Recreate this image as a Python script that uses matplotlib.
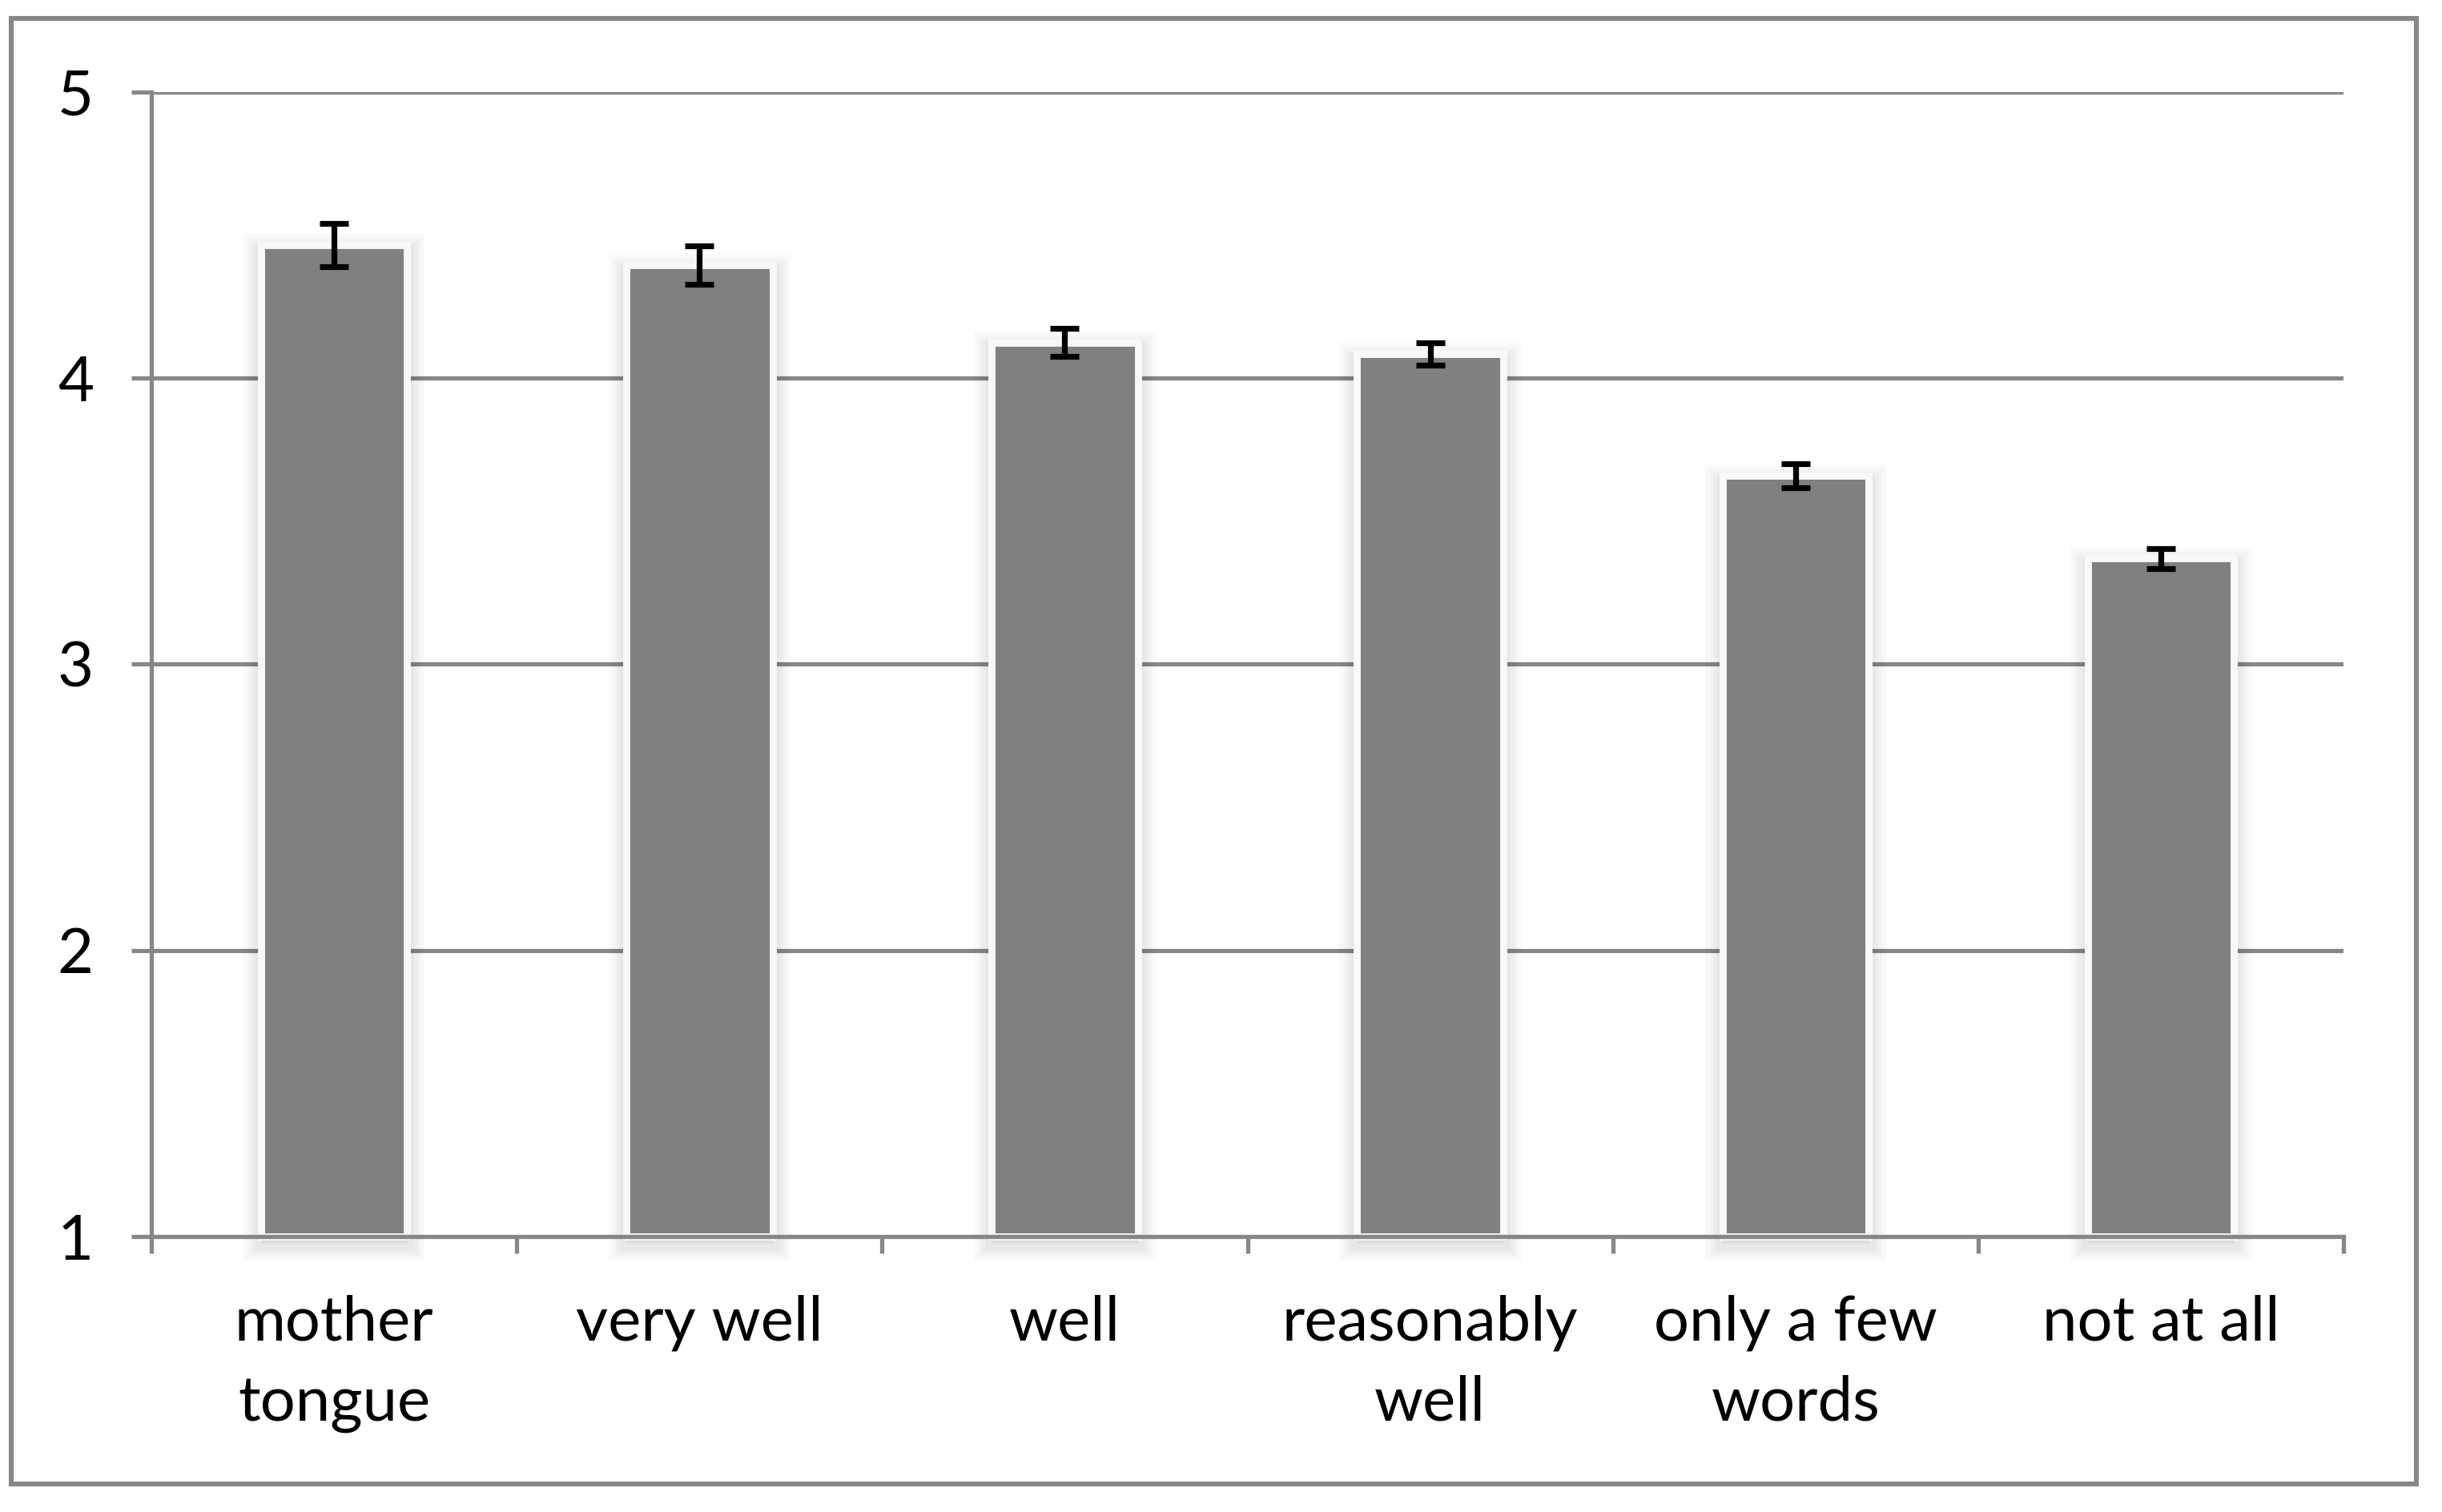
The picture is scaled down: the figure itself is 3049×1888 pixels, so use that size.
import numpy as np
import matplotlib
matplotlib.use("Agg")
import matplotlib.pyplot as plt
import matplotlib.patheffects as pe
from matplotlib.patches import Rectangle

plt.rcParams['font.family'] = ['Lato', 'DejaVu Sans']

# ---------------- data ----------------
categories = ["mother\ntongue", "very well", "well", "reasonably\nwell",
              "only a few\nwords", "not at all"]
means = [4.465, 4.395, 4.125, 4.085, 3.66, 3.37]
errors = [0.075, 0.068, 0.050, 0.040, 0.042, 0.035]
yticks = [1, 2, 3, 4, 5]

grey_line = '#878787'
bar_color = '#808080'

fig = plt.figure(figsize=(15.245, 9.44), dpi=200)
ax = fig.add_axes([0.062, 0.1822, 0.8977, 0.7569])

x = np.arange(len(categories))
heights = np.array(means) - yticks[0]

# soft drop shadow, a bit heavier below than above
shadow = [pe.Stroke(linewidth=lw, foreground='black', alpha=0.022, offset=(0, -3))
          for lw in (16, 12, 9, 6)] + [pe.Normal()]

bars = ax.bar(x, heights, bottom=yticks[0], width=0.4, color=bar_color,
              edgecolor='#f8f8f8', linewidth=3.2, zorder=3, clip_on=False)
for b in bars:
    b.set_path_effects(shadow)

ax.errorbar(x, means, yerr=errors, fmt='none', ecolor='black',
            elinewidth=2.6, capsize=6.5, capthick=2.6, zorder=4)

ax.set_xlim(-0.5, len(categories) - 0.5)
ax.set_ylim(yticks[0], yticks[-1])
ax.set_yticks(yticks)
ax.set_yticklabels([str(t) for t in yticks])
ax.set_xticks(x)
ax.set_xticklabels(categories, linespacing=1.52)
ax.set_xticks(np.arange(len(categories) + 1) - 0.5, minor=True)

for t in yticks[1:]:
    ax.axhline(t, color=grey_line, lw=1.9, zorder=1)

for s in ['top', 'right']:
    ax.spines[s].set_visible(False)
for s in ['left', 'bottom']:
    ax.spines[s].set_color(grey_line)
    ax.spines[s].set_linewidth(1.9)
    ax.spines[s].set_zorder(5)

ax.tick_params(axis='y', direction='out', length=9, width=1.9, color=grey_line,
               labelsize=28, pad=17)
ax.tick_params(axis='x', which='major', length=0, labelsize=28, pad=26)
ax.tick_params(axis='x', which='minor', direction='out', length=7.5, width=1.9,
               color=grey_line)

# outer frame
fig.patches.append(Rectangle((0.0045, 0.0185), 0.985, 0.9693, transform=fig.transFigure,
                             fill=False, edgecolor=grey_line, linewidth=2.2))

fig.savefig('out.png', dpi=200, facecolor='white')
